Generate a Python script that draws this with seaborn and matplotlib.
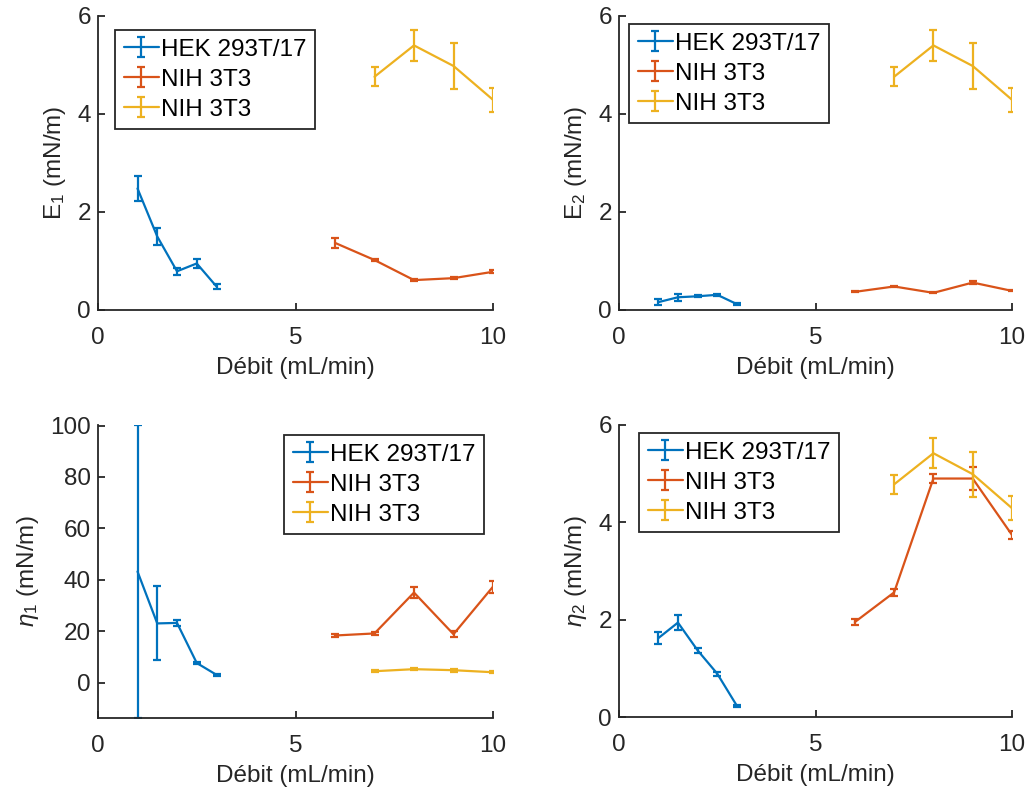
import numpy as np
import pandas as pd
import matplotlib
matplotlib.use("Agg")
import matplotlib.pyplot as plt
import seaborn as sns
from matplotlib.container import ErrorbarContainer
from matplotlib.legend_handler import HandlerErrorbar

# Flow rates (mL/min)
x_hek = [1.0, 1.5, 2.0, 2.5, 3.0]
x_nih = [6.0, 7.0, 8.0, 9.0, 10.0]
x_nih_b = [7.0, 8.0, 9.0, 10.0]

labels = ["HEK 293T/17", "NIH 3T3", "NIH 3T3"]

# E1
e1_hek = [2.48, 1.50, 0.79, 0.95, 0.48]
e1_hek_err = [0.26, 0.18, 0.07, 0.10, 0.06]
e1_nih = [1.37, 1.02, 0.61, 0.65, 0.78]
e1_nih_err = [0.10, 0.03, 0.02, 0.02, 0.03]
e1_nih_b = [4.76, 5.40, 4.98, 4.29]
e1_nih_b_err = [0.19, 0.31, 0.46, 0.25]

# E2
e2_hek = [0.16, 0.26, 0.28, 0.31, 0.12]
e2_hek_err = [0.06, 0.07, 0.02, 0.02, 0.02]
e2_nih = [0.37, 0.48, 0.35, 0.56, 0.39]
e2_nih_err = [0.01, 0.02, 0.01, 0.03, 0.01]
e2_nih_b = [4.76, 5.40, 4.98, 4.29]
e2_nih_b_err = [0.19, 0.31, 0.46, 0.25]

# eta1
h1_hek = [43.2, 23.0, 23.2, 7.6, 3.0]
h1_hek_err = [57.0, 14.4, 1.2, 0.5, 0.3]
h1_nih = [18.3, 19.1, 35.0, 18.8, 37.3]
h1_nih_err = [0.5, 0.6, 2.0, 1.2, 2.3]
h1_nih_b = [4.4, 5.2, 4.8, 4.0]
h1_nih_b_err = [0.3, 0.3, 0.6, 0.3]

# eta2
h2_hek = [1.62, 1.94, 1.37, 0.89, 0.23]
h2_hek_err = [0.12, 0.15, 0.05, 0.04, 0.02]
h2_nih = [1.95, 2.56, 4.90, 4.90, 3.74]
h2_nih_err = [0.06, 0.08, 0.10, 0.24, 0.08]
h2_nih_b = [4.78, 5.42, 4.99, 4.29]
h2_nih_b_err = [0.19, 0.31, 0.46, 0.25]

colors = ["#0072BD", "#D95319", "#EDB120"]
ink = "#262626"

sns.set_theme(style="ticks")
plt.rcParams["font.family"] = ["Liberation Sans", "DejaVu Sans"]
plt.rcParams["mathtext.fontset"] = "custom"
plt.rcParams["mathtext.rm"] = "Liberation Sans"
plt.rcParams["mathtext.it"] = "Liberation Sans:italic"
fs = 17.5

fig = plt.figure(figsize=(10.29, 7.90), dpi=100)

panels = [
    dict(rect=(98, 16, 493, 310), ylabel="E$_1$ (mN/m)",
         series=[(x_hek, e1_hek, e1_hek_err), (x_nih, e1_nih, e1_nih_err), (x_nih_b, e1_nih_b, e1_nih_b_err)],
         ylim=(0, 6), yticks=[0, 2, 4, 6], leg=(115, 30)),
    dict(rect=(619, 16, 1012, 310), ylabel="E$_2$ (mN/m)",
         series=[(x_hek, e2_hek, e2_hek_err), (x_nih, e2_nih, e2_nih_err), (x_nih_b, e2_nih_b, e2_nih_b_err)],
         ylim=(0, 6), yticks=[0, 2, 4, 6], leg=(629, 24)),
    dict(rect=(98, 425, 493, 718), ylabel=r"$\eta_1$ (mN/m)",
         series=[(x_hek, h1_hek, h1_hek_err), (x_nih, h1_nih, h1_nih_err), (x_nih_b, h1_nih_b, h1_nih_b_err)],
         ylim=None, yticks=[0, 20, 40, 60, 80, 100], leg=(284, 435)),
    dict(rect=(619, 425, 1012, 717), ylabel=r"$\eta_2$ (mN/m)",
         series=[(x_hek, h2_hek, h2_hek_err), (x_nih, h2_nih, h2_nih_err), (x_nih_b, h2_nih_b, h2_nih_b_err)],
         ylim=(0, 6), yticks=[0, 2, 4, 6], leg=(639, 433)),
]

W, H = 1029, 790
for p in panels:
    l, t, r, b = p["rect"]
    ax = fig.add_axes([l / W, 1 - b / H, (r - l) / W, (b - t) / H])
    handles = []
    lo, hi = np.inf, -np.inf
    for (xs, ys, es), c, lab in zip(p["series"], colors, labels):
        df = pd.DataFrame({"x": xs, "y": ys})
        sns.lineplot(data=df, x="x", y="y", ax=ax, color=c, lw=1.6, legend=False)
        line = ax.get_lines()[-1]
        cont = ax.errorbar(xs, ys, yerr=es, fmt="none", ecolor=c, elinewidth=1.6,
                           capsize=3, capthick=1.6)
        handles.append((line, cont))
        ys_a, es_a = np.array(ys), np.array(es)
        lo = min(lo, (ys_a - es_a).min())
        hi = max(hi, (ys_a + es_a).max())
    ax.set_xlim(0, 10)
    ax.set_xticks([0, 5, 10])
    if p["ylim"] is None:
        ax.set_ylim(lo, hi)
    else:
        ax.set_ylim(*p["ylim"])
    ax.set_yticks(p["yticks"])
    ax.set_xlabel("Débit (mL/min)", fontsize=fs, color=ink, labelpad=6)
    ax.set_ylabel(p["ylabel"], fontsize=fs, color=ink, labelpad=7)
    sns.despine(ax=ax)
    for s in ("left", "bottom"):
        ax.spines[s].set_color(ink)
        ax.spines[s].set_linewidth(1.3)
    ax.tick_params(direction="in", length=5, width=1.3, colors=ink, labelsize=fs,
                   labelcolor=ink)
    ax.tick_params(axis="x", pad=12)
    ax.tick_params(axis="y", pad=5)
    lx, ly = p["leg"]
    leg = ax.legend(handles, labels, loc="upper left",
                    bbox_to_anchor=(lx / W, 1 - ly / H), bbox_transform=fig.transFigure,
                    handler_map={ErrorbarContainer: HandlerErrorbar(yerr_size=0.4)},
                    fontsize=fs, frameon=True, fancybox=False, framealpha=1,
                    edgecolor=ink, borderpad=0.35, labelspacing=0.33,
                    handlelength=1.45, handletextpad=0.1, borderaxespad=0)
    leg.get_frame().set_linewidth(1.3)
    for txt in leg.get_texts():
        txt.set_color("black")

fig.savefig("out.png", dpi=100)
